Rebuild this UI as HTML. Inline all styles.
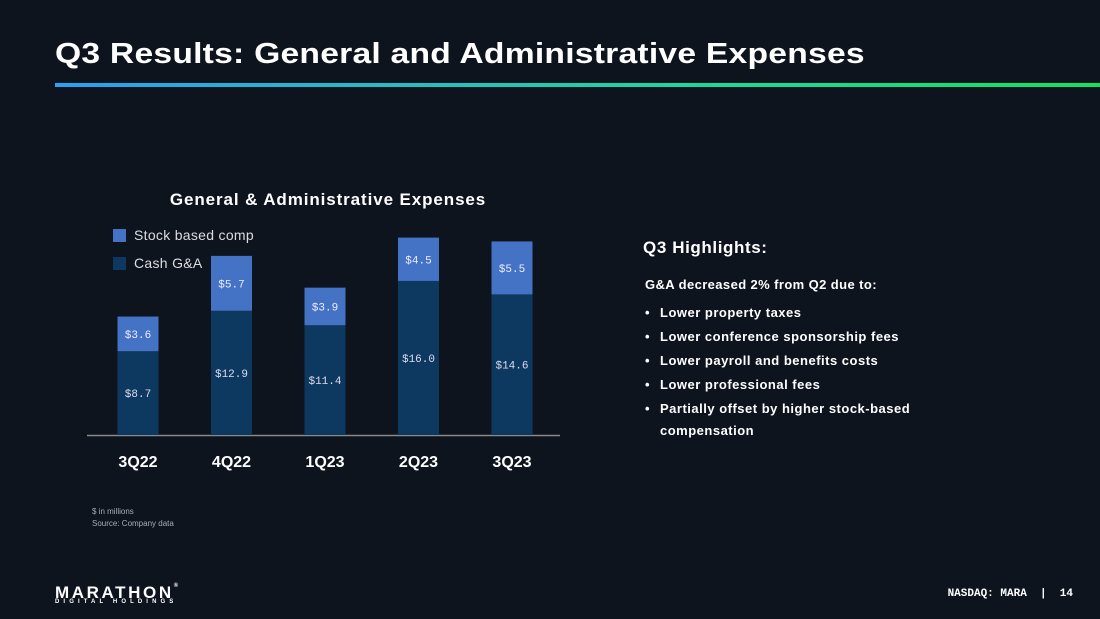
<!DOCTYPE html>
<html><head><meta charset="utf-8">
<style>
body{margin:0;background:#0e141e;width:1100px;height:619px;overflow:hidden;font-family:"Liberation Sans",sans-serif;color:#fff;position:relative}
.abs{position:absolute}
h1{position:absolute;left:55px;top:38px;margin:0;font-size:29px;font-weight:bold;letter-spacing:0.2px;transform:scaleX(1.16);transform-origin:left top;white-space:nowrap}
.rule{left:55px;top:83px;width:1045px;height:4px;background:linear-gradient(90deg,#2aa0f0,#1fd6a0 60%,#14e060)}
.hl{left:643px;top:238px;font-size:17px;font-weight:bold;letter-spacing:0.6px}
.sub{left:645px;top:277px;font-size:13px;font-weight:bold;letter-spacing:0.4px}
ul{position:absolute;left:645px;top:302px;margin:0;padding:0;list-style:none;font-size:13px;font-weight:bold;width:320px;letter-spacing:0.5px}
li{position:relative;padding-left:15px;line-height:22px;margin-bottom:2px}
li:before{content:"•";position:absolute;left:0}
.note{left:92px;font-size:8px;color:#aab}
.foot{right:27px;top:588px;font-family:"Liberation Mono",monospace;font-size:11px;font-weight:bold}
</style></head><body>
<h1>Q3 Results: General and Administrative Expenses</h1>
<div class="abs rule"></div>
<svg class="abs" style="left:0;top:0" width="1100" height="619" id="chart">
<text x="328" y="205" text-anchor="middle" font-size="17" font-weight="bold" fill="#fff" letter-spacing="0.9">General &amp; Administrative Expenses</text>
<rect x="113" y="229" width="13" height="13" fill="#4472c4"/>
<text x="134" y="240" font-size="14" fill="#ddd" letter-spacing="0.3">Stock based comp</text>
<rect x="113" y="257" width="13" height="13" fill="#0d3860"/>
<text x="134" y="268" font-size="14" fill="#ddd" letter-spacing="0.3">Cash G&amp;A</text>
<line x1="87" y1="435.5" x2="560" y2="435.5" stroke="#888" stroke-width="1.5"/>
</svg>
<div class="abs hl">Q3 Highlights:</div>
<div class="abs sub">G&amp;A decreased 2% from Q2 due to:</div>
<ul>
<li>Lower property taxes</li>
<li>Lower conference sponsorship fees</li>
<li>Lower payroll and benefits costs</li>
<li>Lower professional fees</li>
<li>Partially offset by higher stock-based compensation</li>
</ul>
<div class="abs note" style="top:507px">$ in millions</div>
<div class="abs note" style="top:519px">Source: Company data</div>
<div class="abs" style="left:55px;top:583px;font-size:17px;font-weight:bold;letter-spacing:2.6px">MARATHON<span style="font-size:6px;vertical-align:top">®</span></div>
<div class="abs" style="left:55px;top:599px;font-size:6px;font-weight:bold;letter-spacing:4.1px">DIGITAL HOLDINGS</div>
<div class="abs foot">NASDAQ: MARA &nbsp;| &nbsp;14</div>
<script>
const categories=["3Q22","4Q22","1Q23","2Q23","3Q23"];
const cashGA=[8.7,12.9,11.4,16.0,14.6];
const stockComp=[3.6,5.7,3.9,4.5,5.5];
const svg=document.getElementById('chart');
const NS="http://www.w3.org/2000/svg";
const baseY=435, pxPerUnit=9.63, x0=138, step=93.5, bw=41;
const xPos=i=>x0+i*step;
const yPos=v=>baseY-v*pxPerUnit;
function mk(tag,attrs){const e=document.createElementNS(NS,tag);for(const k in attrs)e.setAttribute(k,attrs[k]);svg.appendChild(e);return e;}
categories.forEach((c,i)=>{
  const cx=xPos(i);
  const yc=yPos(cashGA[i]), yt=yPos(cashGA[i]+stockComp[i]);
  let r=mk('rect',{x:cx-bw/2,y:yc,width:bw,height:baseY-yc,fill:'#0d3860'});
  
  
  let s=mk('rect',{x:cx-bw/2,y:yt,width:bw,height:yc-yt,fill:'#4472c4'});
  
  
  let t1=mk('text',{x:cx,y:(yc+baseY)/2+4,'text-anchor':'middle','font-size':11,fill:'#dde','font-family':'Liberation Mono, monospace'});
  t1.textContent='$'+cashGA[i].toFixed(1);
  
  
  let t2=mk('text',{x:cx,y:(yt+yc)/2+4,'text-anchor':'middle','font-size':11,fill:'#eef','font-family':'Liberation Mono, monospace'});
  t2.textContent='$'+stockComp[i].toFixed(1);
  
  
  let t3=mk('text',{x:cx,y:467,'text-anchor':'middle','font-size':16,'font-weight':'bold',fill:'#fff'});
  t3.textContent=c;
  
  
});
</script>
</body></html>
